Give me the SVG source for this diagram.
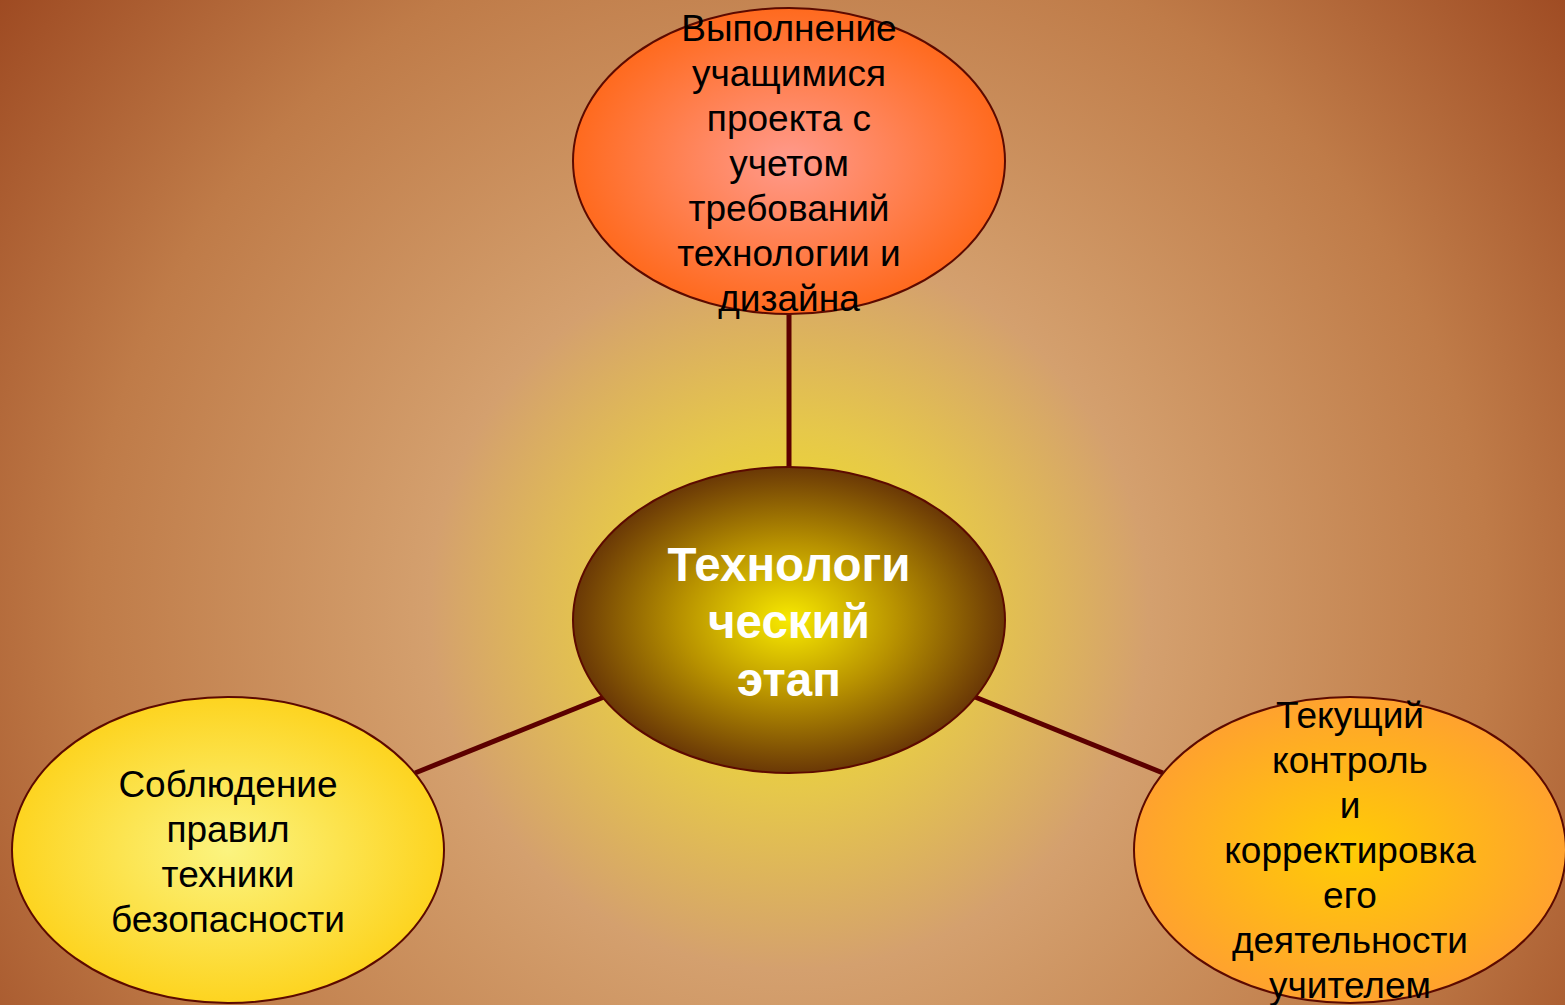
<svg xmlns="http://www.w3.org/2000/svg" width="1565" height="1005" viewBox="0 0 1565 1005">
<defs>
<radialGradient id="bg" gradientUnits="userSpaceOnUse" cx="789" cy="610" r="1000">
<stop offset="0" stop-color="#f5e618"/>
<stop offset="0.18" stop-color="#e6c84a"/>
<stop offset="0.36" stop-color="#d4a06e"/>
<stop offset="0.7" stop-color="#bf7b48"/>
<stop offset="1" stop-color="#9e4a22"/>
</radialGradient>
<radialGradient id="gTop"><stop offset="0" stop-color="#ff9a8c"/><stop offset="1" stop-color="#ff6a1e"/></radialGradient>
<radialGradient id="gCenter"><stop offset="0" stop-color="#f8ea00"/><stop offset="0.5" stop-color="#b89200"/><stop offset="1" stop-color="#6a3806"/></radialGradient>
<radialGradient id="gLeft"><stop offset="0" stop-color="#fbf480"/><stop offset="1" stop-color="#fdd420"/></radialGradient>
<radialGradient id="gRight"><stop offset="0" stop-color="#ffcc05"/><stop offset="1" stop-color="#ffa22e"/></radialGradient>
</defs>
<style>
.node{stroke:#5c0a00;stroke-width:2}
.t{font-family:"Liberation Sans",Arial,sans-serif;font-size:37px;fill:#000;text-anchor:middle}
.c{font-family:"Liberation Sans",Arial,sans-serif;font-size:47.5px;font-weight:bold;fill:#fff;text-anchor:middle}
.edge{stroke:#5c0000;stroke-width:5;fill:none}
</style>
<rect width="1565" height="1005" fill="url(#bg)"/>
<g id="connectors">
<line class="edge" x1="789" y1="314" x2="789" y2="468"/>
<line class="edge" x1="415" y1="773" x2="604" y2="697"/>
<line class="edge" x1="975" y1="697" x2="1163" y2="773"/>
</g>
<g id="node-top">
<ellipse class="node" cx="789" cy="161" rx="216" ry="153" fill="url(#gTop)"/>
<text class="t" x="789" y="41">Выполнение</text>
<text class="t" x="789" y="86">учащимися</text>
<text class="t" x="789" y="131">проекта с</text>
<text class="t" x="789" y="176">учетом</text>
<text class="t" x="789" y="221">требований</text>
<text class="t" x="789" y="266">технологии и</text>
<text class="t" x="789" y="311">дизайна</text>
</g>
<g id="node-center">
<ellipse class="node" cx="789" cy="620" rx="216" ry="153" fill="url(#gCenter)"/>
<text class="c" x="789" y="581">Технологи</text>
<text class="c" x="789" y="638">ческий</text>
<text class="c" x="789" y="696">этап</text>
</g>
<g id="node-left">
<ellipse class="node" cx="228" cy="850" rx="216" ry="153" fill="url(#gLeft)"/>
<text class="t" x="228" y="797">Соблюдение</text>
<text class="t" x="228" y="842">правил</text>
<text class="t" x="228" y="887">техники</text>
<text class="t" x="228" y="932">безопасности</text>
</g>
<g id="node-right">
<ellipse class="node" cx="1350" cy="850" rx="216" ry="153" fill="url(#gRight)"/>
<text class="t" x="1350" y="728">Текущий</text>
<text class="t" x="1350" y="773">контроль</text>
<text class="t" x="1350" y="818">и</text>
<text class="t" x="1350" y="863">корректировка</text>
<text class="t" x="1350" y="908">его</text>
<text class="t" x="1350" y="953">деятельности</text>
<text class="t" x="1350" y="998">учителем</text>
</g>
</svg>
